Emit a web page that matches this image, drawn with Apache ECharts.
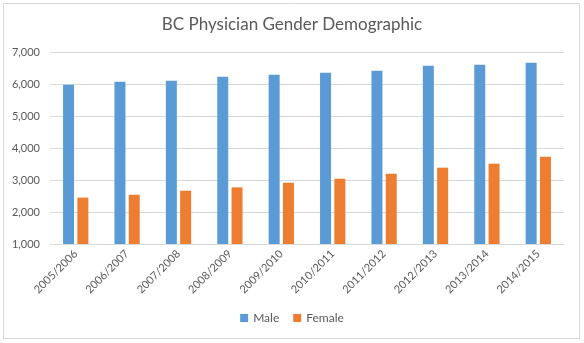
<!DOCTYPE html>
<html><head><meta charset="utf-8">
<script src="https://cdn.jsdelivr.net/npm/echarts@6/dist/echarts.min.js"></script>
<style>html,body{margin:0;padding:0;background:#fff}#c{width:584px;height:343px}</style>
</head><body><div id="c"></div>
<script>
const categories = ['2005/2006','2006/2007','2007/2008','2008/2009','2009/2010','2010/2011','2011/2012','2012/2013','2013/2014','2014/2015'];
const male = [5980, 6070, 6100, 6225, 6290, 6350, 6415, 6570, 6600, 6665];
const female = [2450, 2540, 2665, 2770, 2915, 3040, 3195, 3385, 3510, 3730];
const FONT = 'Lato, "Open Sans", sans-serif';
const chart = echarts.init(document.getElementById('c'));
chart.setOption({
  animation: false,
  backgroundColor: '#fff',
  graphic: [{type:'rect', shape:{x:3.5,y:3.5,width:576,height:335}, style:{fill:'none', stroke:'#d9d9d9', lineWidth:1}}],
  title: {text: 'BC Physician Gender Demographic', left: 'center', top: 11,
    textStyle: {fontFamily: FONT, fontSize: 17, fontWeight: 'normal', color: '#595959'}},
  legend: {bottom: 14, left: 'center', itemWidth: 8, itemHeight: 8, itemGap: 14, icon: 'rect',
    textStyle: {fontFamily: FONT, fontSize: 12, color: '#595959'}, data: ['Male','Female']},
  grid: {left: 50, right: 20, top: 52, bottom: 99, containLabel: false},
  xAxis: {type: 'category', data: categories,
    axisLine: {lineStyle: {color: '#d9d9d9'}}, axisTick: {show: false},
    axisLabel: {rotate: 45, interval: 0, fontFamily: FONT, fontSize: 11, color: '#595959', margin: 8}},
  yAxis: {type: 'value', min: 1000, max: 7000, interval: 1000,
    axisLine: {show: false}, axisTick: {show: false},
    splitLine: {lineStyle: {color: '#d9d9d9'}},
    axisLabel: {fontFamily: FONT, fontSize: 11, color: '#595959', margin: 10,
      formatter: v => v.toLocaleString('en-US')}},
  series: [
    {name: 'Male', type: 'bar', data: male, barWidth: 11, barGap: '30%', itemStyle: {color: '#5b9bd5'}},
    {name: 'Female', type: 'bar', data: female, barWidth: 11, barGap: '30%', itemStyle: {color: '#ed7d31'}}
  ]
});
</script></body></html>
